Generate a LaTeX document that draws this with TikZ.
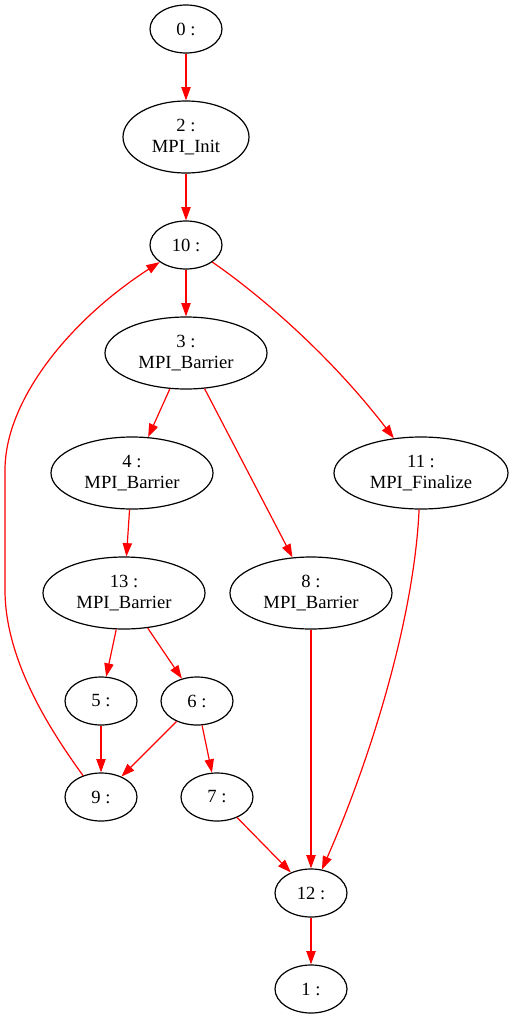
\documentclass[tikz,border=0pt]{standalone}
\usepackage{fontspec}
\setmainfont{Liberation Serif}
\usetikzlibrary{shapes.geometric,arrows.meta}
\begin{document}
\begin{tikzpicture}[x=1pt,y=-1pt,
  nd/.style={ellipse, draw=black, line width=1.2pt, inner sep=0pt, align=center,
    font=\fontsize{18.6}{20.5}\selectfont},
  sm/.style={nd, minimum width=72pt, minimum height=48pt},
  bg/.style={nd, minimum width=162pt, minimum height=72pt},
  ed/.style={draw=red, line width=1.2pt, -{Triangle[length=13.3pt,width=9.3pt,fill=red]}}]
\useasboundingbox (0,0) rectangle (513,1017);
\node[sm] (n0) at (186,29) {0 :};
\node[nd, minimum width=126pt, minimum height=72pt] (n2) at (186,137) {2 :\\MPI\_Init};
\node[sm] (n10) at (186,245) {10 :};
\node[bg] (n3) at (186,353) {3 :\\MPI\_Barrier};
\node[bg] (n4) at (132,473) {4 :\\MPI\_Barrier};
\node[nd, minimum width=174pt, minimum height=72pt] (n11) at (421,473) {11 :\\MPI\_Finalize};
\node[bg] (n13) at (124,593) {13 :\\MPI\_Barrier};
\node[bg] (n8) at (311,593) {8 :\\MPI\_Barrier};
\node[sm] (n5) at (101,701) {5 :};
\node[sm] (n6) at (197,701) {6 :};
\node[sm] (n9) at (101,797) {9 :};
\node[sm] (n7) at (217,797) {7 :};
\node[sm] (n12) at (311,893) {12 :};
\node[sm] (n1) at (311,989) {1 :};
\draw[ed] (n0) -- (n2);
\draw[ed] (n2) -- (n10);
\draw[ed] (n10) -- (n3);
\draw[ed] (n3) -- (n4);
\draw[ed] (n3) -- (n8);
\draw[ed] (n4) -- (n13);
\draw[ed] (n13) -- (n5);
\draw[ed] (n13) -- (n6);
\draw[ed] (n5) -- (n9);
\draw[ed] (n6) -- (n9);
\draw[ed] (n6) -- (n7);
\draw[ed] (n7) -- (n12);
\draw[ed] (n8) -- (n12);
\draw[ed] (n12) -- (n1);
\draw[ed] (n10.327) .. controls (260,295) and (330,355) .. (n11.128);
\draw[ed] (n11.267) .. controls (414,620) and (370,760) .. (n12.65);
\draw[ed] (n9.130) .. controls (50,730) and (5,660) .. (5,590) -- (5,470)
  .. controls (5,400) and (70,320) .. (n10.213);
\end{tikzpicture}
\end{document}
